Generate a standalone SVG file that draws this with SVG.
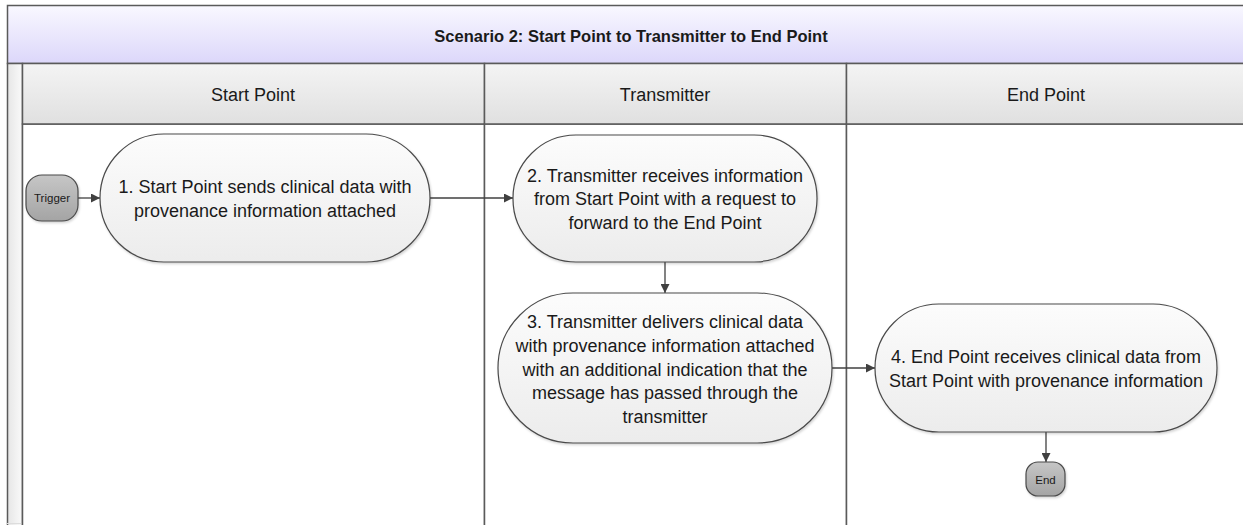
<svg xmlns="http://www.w3.org/2000/svg" width="1243" height="525" viewBox="0 0 1243 525">
<style>
.lane{fill:#ffffff;stroke:#5a5a5a;stroke-width:1.5}
.hdr{fill:url(#gHdr);stroke:#5a5a5a;stroke-width:1.5}
.node{fill:url(#gNode);stroke:#4a4a4a;stroke-width:1.2;filter:url(#sh)}
.term{fill:url(#gTerm);stroke:#4a4a4a;stroke-width:1.2;filter:url(#sh)}
.t{font-family:"Liberation Sans",Arial,sans-serif;fill:#1a1a1a;text-anchor:middle}
.nt{font-size:18px}
.ht{font-size:18px}
.st{font-size:11.5px}
.conn{stroke:#404040;stroke-width:1.3;fill:none;marker-end:url(#arr)}
</style>
<defs>
<linearGradient id="gTitle" x1="0" y1="0" x2="0" y2="1"><stop offset="0" stop-color="#f9f8ff"/><stop offset="1" stop-color="#dcd7fa"/></linearGradient>
<linearGradient id="gHdr" x1="0" y1="0" x2="0" y2="1"><stop offset="0" stop-color="#f4f4f4"/><stop offset="1" stop-color="#e0e0e0"/></linearGradient>
<linearGradient id="gStrip" x1="0" y1="0" x2="1" y2="0"><stop offset="0" stop-color="#e6e6e6"/><stop offset="1" stop-color="#fafafa"/></linearGradient>
<linearGradient id="gNode" x1="0" y1="0" x2="0" y2="1"><stop offset="0" stop-color="#fcfcfc"/><stop offset="1" stop-color="#ececec"/></linearGradient>
<linearGradient id="gTerm" x1="0" y1="0" x2="0" y2="1"><stop offset="0" stop-color="#c6c6c6"/><stop offset="1" stop-color="#a4a4a4"/></linearGradient>
<filter id="sh" x="-10%" y="-10%" width="120%" height="130%"><feDropShadow dx="1" dy="1.5" stdDeviation="1" flood-color="#000" flood-opacity="0.18"/></filter>
<marker id="arr" viewBox="0 0 10 10" refX="10" refY="5" markerWidth="9" markerHeight="9" markerUnits="userSpaceOnUse" orient="auto"><path d="M0,0 L10,5 L0,10 z" fill="#404040"/></marker>
</defs>
<g id="pool">
<rect x="7.5" y="5.5" width="1245" height="58" fill="url(#gTitle)" stroke="#5a5a5a" stroke-width="1.5"/>
<text class="t" x="631" y="42" font-size="16.5px" font-weight="bold">Scenario 2: Start Point to Transmitter to End Point</text>
<rect x="7.5" y="63.5" width="15" height="470" fill="url(#gStrip)" stroke="#5a5a5a" stroke-width="1.5"/>
<line x1="7" y1="523.5" x2="1243" y2="523.5" stroke="#dddddd" stroke-width="1"/>
</g>
<g id="lane-start">
<rect class="lane" x="22.5" y="124" width="462" height="410"/>
<rect class="hdr" x="22.5" y="63.5" width="462" height="60.5"/>
<text class="t ht" x="253" y="101">Start Point</text>
</g>
<g id="lane-transmitter">
<rect class="lane" x="484.5" y="124" width="362" height="410"/>
<rect class="hdr" x="484.5" y="63.5" width="362" height="60.5"/>
<text class="t ht" x="665" y="101">Transmitter</text>
</g>
<g id="lane-end">
<rect class="lane" x="846.5" y="124" width="410" height="410"/>
<rect class="hdr" x="846.5" y="63.5" width="410" height="60.5"/>
<text class="t ht" x="1046" y="101">End Point</text>
</g>
<g id="connectors">
<line class="conn" x1="78" y1="198" x2="100" y2="198"/>
<line class="conn" x1="430" y1="198" x2="513" y2="198"/>
<line class="conn" x1="665" y1="262" x2="665" y2="293"/>
<line class="conn" x1="832" y1="368" x2="875" y2="368"/>
<line class="conn" x1="1046" y1="432" x2="1046" y2="462"/>
</g>
<g id="trigger">
<rect class="term" x="26" y="175" width="52" height="46" rx="16" ry="16"/>
<text class="t st" x="52" y="202">Trigger</text>
</g>
<g id="step1">
<rect class="node" x="100" y="134" width="330" height="128" rx="64" ry="64"/>
<text class="t nt" x="265" y="193">1. Start Point sends clinical data with</text>
<text class="t nt" x="265" y="217">provenance information attached</text>
</g>
<g id="step2">
<rect class="node" x="513" y="135" width="304" height="127" rx="63" ry="63"/>
<text class="t nt" x="665" y="182">2. Transmitter receives information</text>
<text class="t nt" x="665" y="205">from Start Point with a request to</text>
<text class="t nt" x="665" y="229">forward to the End Point</text>
</g>
<g id="step3">
<rect class="node" x="498" y="293" width="334" height="150" rx="75" ry="75"/>
<text class="t nt" x="665" y="328">3. Transmitter delivers clinical data</text>
<text class="t nt" x="665" y="352">with provenance information attached</text>
<text class="t nt" x="665" y="376">with an additional indication that the</text>
<text class="t nt" x="665" y="399">message has passed through the</text>
<text class="t nt" x="665" y="423">transmitter</text>
</g>
<g id="step4">
<rect class="node" x="875" y="304" width="342" height="128" rx="64" ry="64"/>
<text class="t nt" x="1046" y="363">4. End Point receives clinical data from</text>
<text class="t nt" x="1046" y="387">Start Point with provenance information</text>
</g>
<g id="end">
<rect class="term" x="1026" y="462" width="39" height="34" rx="12" ry="12"/>
<text class="t st" x="1045.5" y="484">End</text>
</g>
</svg>
